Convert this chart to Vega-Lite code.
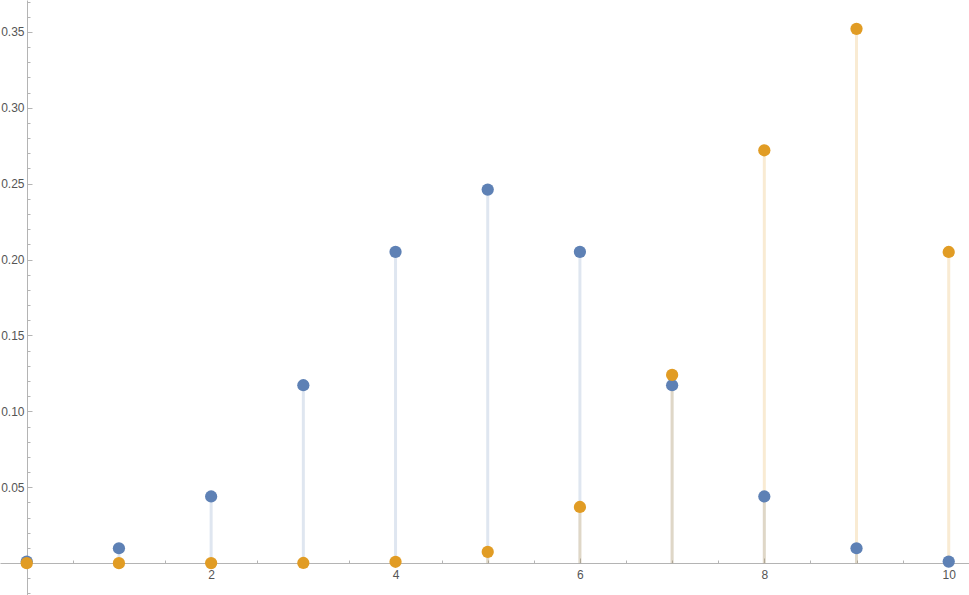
{
  "$schema": "https://vega.github.io/schema/vega-lite/v6.json",
  "width": 969,
  "height": 595,
  "autosize": {"type": "none"},
  "padding": 0,
  "background": "white",
  "config": {
    "view": {"stroke": null},
    "axis": {
      "grid": false,
      "title": null,
      "domainColor": "#b4b4b4",
      "tickColor": "#b4b4b4",
      "labelColor": "#555555",
      "labelFont": "Liberation Sans",
      "labelFontSize": 12,
      "labelFlush": false,
      "labelOverlap": false
    }
  },
  "data": {
    "values": [
      {"k": 0, "p": 0.001, "series": "Binomial 0.5"},
      {"k": 1, "p": 0.0098, "series": "Binomial 0.5"},
      {"k": 2, "p": 0.0439, "series": "Binomial 0.5"},
      {"k": 3, "p": 0.1172, "series": "Binomial 0.5"},
      {"k": 4, "p": 0.2051, "series": "Binomial 0.5"},
      {"k": 5, "p": 0.2461, "series": "Binomial 0.5"},
      {"k": 6, "p": 0.2051, "series": "Binomial 0.5"},
      {"k": 7, "p": 0.1172, "series": "Binomial 0.5"},
      {"k": 8, "p": 0.0439, "series": "Binomial 0.5"},
      {"k": 9, "p": 0.0098, "series": "Binomial 0.5"},
      {"k": 10, "p": 0.001, "series": "Binomial 0.5"},
      {"k": 0, "p": 0.0, "series": "Other"},
      {"k": 1, "p": 0.0, "series": "Other"},
      {"k": 2, "p": 0.00001, "series": "Other"},
      {"k": 3, "p": 0.0001, "series": "Other"},
      {"k": 4, "p": 0.0009, "series": "Other"},
      {"k": 5, "p": 0.0074, "series": "Other"},
      {"k": 6, "p": 0.037, "series": "Other"},
      {"k": 7, "p": 0.124, "series": "Other"},
      {"k": 8, "p": 0.272, "series": "Other"},
      {"k": 9, "p": 0.352, "series": "Other"},
      {"k": 10, "p": 0.205, "series": "Other"}
    ]
  },
  "encoding": {
    "color": {
      "field": "series",
      "type": "nominal",
      "scale": {"domain": ["Binomial 0.5", "Other"], "range": ["#5E81B5", "#E19C24"]},
      "legend": null
    }
  },
  "layer": [
    {
      "mark": {"type": "rule", "strokeWidth": 3, "opacity": 0.2},
      "encoding": {
        "x": {
          "field": "k", "type": "quantitative",
          "scale": {"domain": [-0.29, 10.22], "nice": false, "zero": false},
          "axis": {"orient": "bottom", "offset": -32, "values": [2, 4, 6, 8, 10], "tickSize": -5, "labelPadding": 11, "domain": true}
        },
        "y": {
          "field": "p", "type": "quantitative",
          "scale": {"domain": [-0.021, 0.371], "nice": false, "zero": false},
          "axis": {"orient": "left", "offset": -27, "values": [0.05, 0.1, 0.15, 0.2, 0.25, 0.3, 0.35], "format": ".2f", "tickSize": -5, "labelPadding": 8, "domain": true}
        },
        "y2": {"datum": 0}
      }
    },
    {
      "mark": {"type": "point", "filled": true, "size": 150, "opacity": 1},
      "encoding": {
        "x": {
          "field": "k", "type": "quantitative",
          "scale": {"domain": [-0.29, 10.22], "nice": false, "zero": false},
          "axis": {"orient": "bottom", "offset": -32, "values": [0.5, 1, 1.5, 2.5, 3, 3.5, 4.5, 5, 5.5, 6.5, 7, 7.5, 8.5, 9, 9.5], "tickSize": -3, "labels": false, "domain": false}
        },
        "y": {
          "field": "p", "type": "quantitative",
          "scale": {"domain": [-0.021, 0.371], "nice": false, "zero": false},
          "axis": {"orient": "left", "offset": -27, "values": [-0.02, -0.01, 0.01, 0.02, 0.03, 0.04, 0.06, 0.07, 0.08, 0.09, 0.11, 0.12, 0.13, 0.14, 0.16, 0.17, 0.18, 0.19, 0.21, 0.22, 0.23, 0.24, 0.26, 0.27, 0.28, 0.29, 0.31, 0.32, 0.33, 0.34, 0.36, 0.37], "tickSize": -3, "labels": false, "domain": false}
        }
      }
    }
  ],
  "resolve": {"axis": {"x": "independent", "y": "independent"}}
}
